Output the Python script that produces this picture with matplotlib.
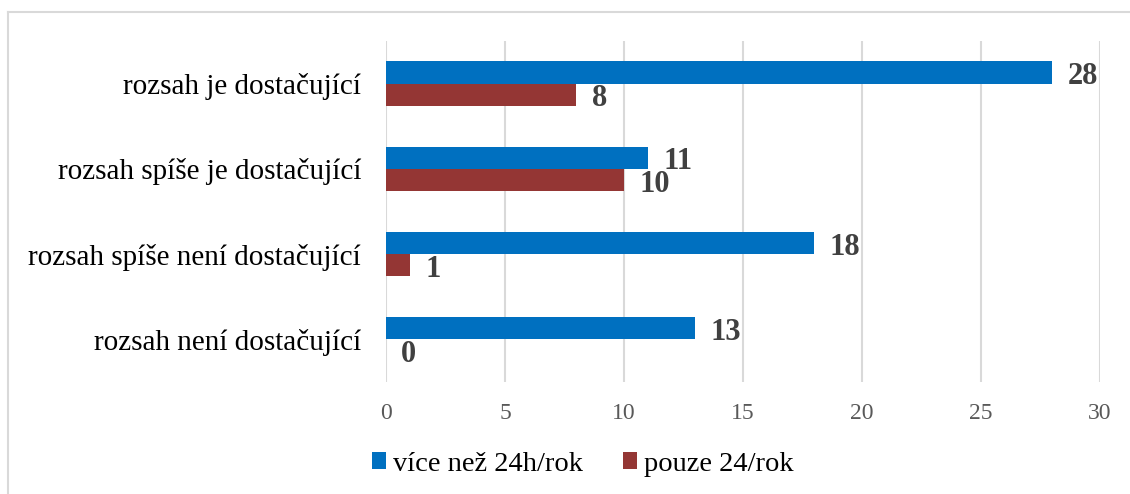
import matplotlib.pyplot as plt
import matplotlib.lines as mlines
import numpy as np

categories = ["rozsah je dostačující",
              "rozsah spíše je dostačující",
              "rozsah spíše není dostačující",
              "rozsah není dostačující"]
vice_nez = [28, 11, 18, 13]
pouze = [8, 10, 1, 0]
series_names = ["více než 24h/rok", "pouze 24/rok"]
x_ticks = [0, 5, 10, 15, 20, 25, 30]

blue = "#0070C0"
red = "#943634"

plt.rcParams['font.family'] = ['Liberation Serif', 'DejaVu Serif']

fig = plt.figure(figsize=(11.3, 4.94), dpi=100)
ax = fig.add_axes([386/1130, 1-382/494, 714/1130, 341/494])

y = np.arange(len(categories))
h = 0.26
b1 = ax.barh(y - h/2, vice_nez, height=h, color=blue, label=series_names[0], zorder=3)
b2 = ax.barh(y + h/2, pouze, height=h, color=red, label=series_names[1], zorder=3)

for bars in (b1, b2):
    for rect in bars:
        w = rect.get_width()
        ax.annotate(str(int(w)), (w, rect.get_y() + rect.get_height()/2),
                    xytext=(11, -3), textcoords='offset points', ha='left', va='center',
                    fontsize=22, fontweight='bold', color='#404040')

ax.set_ylim(len(categories) - 0.5, -0.5)
ax.set_xlim(0, 30)
ax.set_yticks(y)
ax.set_yticklabels(categories, fontsize=21, color='black')
ax.set_xticks(x_ticks)
ax.set_xticklabels([str(t) for t in x_ticks], fontsize=17, color='#595959')
ax.tick_params(axis='y', length=0, pad=18)
ax.tick_params(axis='x', length=0, pad=15)
ax.grid(axis='x', color='#D9D9D9', linewidth=1.5, zorder=0)
for s in ax.spines.values():
    s.set_visible(False)

fig.legend(handles=[b1, b2], labels=series_names, loc='center', bbox_to_anchor=(583/1130, 1-464/494),
           ncol=2, frameon=False, fontsize=20.5, handlelength=0.5, handleheight=0.5,
           handletextpad=0.25, columnspacing=1.4)

# chart border (left and top edges visible)
fig.add_artist(mlines.Line2D([8/1130, 8/1130], [0, 1-12/494], color='#D9D9D9', linewidth=1.5))
fig.add_artist(mlines.Line2D([8/1130, 1], [1-12/494, 1-12/494], color='#D9D9D9', linewidth=1.5))

fig.savefig("out.png", dpi=100)
